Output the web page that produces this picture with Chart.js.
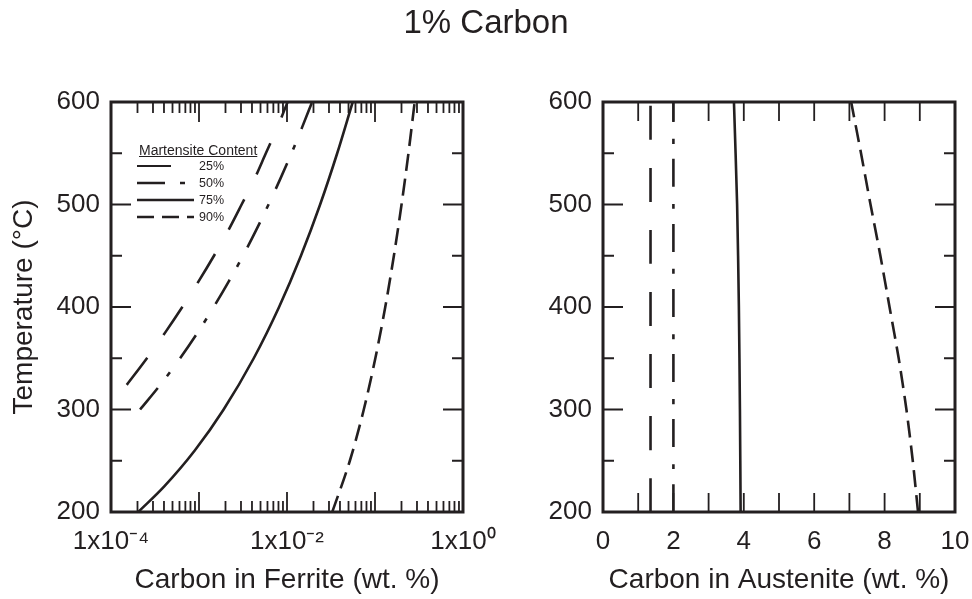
<!DOCTYPE html>
<html><head><meta charset="utf-8">
<script src="https://cdn.jsdelivr.net/npm/chart.js@4.4.0/dist/chart.umd.min.js"></script>
<style>
html,body{margin:0;padding:0;background:#fff;}
#wrap{position:relative;width:972px;height:599px;overflow:hidden;font-family:'Liberation Sans',Arial,sans-serif;color:#231f20;background:#fff;}
#title{position:absolute;left:0;width:972px;top:3px;line-height:37px;text-align:center;font-size:33px;}
canvas{position:absolute;top:0;}
#c1{left:0;}
#c2{left:500px;}
#legend{position:absolute;left:0;top:0;}
.lgTitle{position:absolute;left:139px;top:142px;font-size:14px;line-height:16px;text-decoration:underline;white-space:nowrap;}
.lgRow{position:absolute;left:137px;height:16px;width:120px;}
.lgRow svg{position:absolute;left:0;top:0;}
.lgRow span{position:absolute;left:62px;top:0;font-size:12.5px;line-height:16px;}
</style></head>
<body><div id="wrap">
<canvas id="c1" width="540" height="599"></canvas>
<canvas id="c2" width="484" height="599"></canvas>
<div id="title">1% Carbon</div>
<div id="legend"></div>
</div>
<script>
// ---------- data ----------
const seriesLabels = ['25%', '50%', '75%', '90%'];
const legendTitle = 'Martensite Content';

// Left panel: carbon in ferrite (wt. %) vs temperature (°C)
const ferrite25T = [324, 350, 375, 400, 425, 450, 475, 500, 525, 550, 575, 600];
const ferrite25C = [1.51e-4, 2.56e-4, 4.12e-4, 6.46e-4, 9.89e-4, 1.48e-3, 2.16e-3, 3.05e-3, 4.27e-3, 5.75e-3, 7.76e-3, 1.016e-2];
const ferrite50T = [300, 325, 350, 375, 400, 425, 450, 475, 500, 525, 550, 575, 600];
const ferrite50C = [2.14e-4, 3.70e-4, 6.10e-4, 9.64e-4, 1.47e-3, 2.18e-3, 3.16e-3, 4.46e-3, 6.17e-3, 8.39e-3, 1.125e-2, 1.48e-2, 1.93e-2];
const ferrite75T = [200, 225, 260, 300, 350, 400, 450, 500, 550, 600];
const ferrite75C = [2.04e-4, 4.03e-4, 8.95e-4, 1.905e-3, 4.19e-3, 8.13e-3, 1.44e-2, 2.38e-2, 3.72e-2, 5.58e-2];
const ferrite90T = [200, 250, 300, 350, 400, 450, 500, 550, 600];
const ferrite90C = [3.27e-2, 5.18e-2, 7.46e-2, 0.1009, 0.1308, 0.1639, 0.2003, 0.2399, 0.2825];

// Right panel: carbon in austenite (wt. %) vs temperature (°C)
const austenite25T = [200, 600];
const austenite25C = [1.35, 1.35];
const austenite50T = [200, 600];
const austenite50C = [2.0, 2.0];
const austenite75T = [200, 300, 400, 500, 600];
const austenite75C = [3.91, 3.89, 3.86, 3.81, 3.72];
const austenite90T = [200, 250, 300, 350, 400, 450, 500, 550, 600];
const austenite90C = [8.95, 8.80, 8.62, 8.40, 8.14, 7.88, 7.60, 7.33, 7.05];

// Ticks
const tempTicks = [200, 300, 400, 500, 600];
const tempMinorTicks = [250, 350, 450, 550];
const ferriteTickValues = [1e-4, 1e-2, 1];
const ferriteTickLabels = ['1x10\u207B\u2074', '1x10\u207B\u00B2', '1x10\u2070'];
const ferriteDecadeMarks = [1e-4, 1e-3, 1e-2, 1e-1, 1];
const austeniteTickValues = [0, 2, 4, 6, 8, 10];
const austeniteTickMarks = [0, 1, 2, 3, 4, 5, 6, 7, 8, 9, 10];

// ---------- styles ----------
const INK = '#231f20';
const FONT = "'Liberation Sans', Arial, sans-serif";
const seriesDash = [[34, 28], [28, 15, 5, 17], [], [17, 8]];
const LINE_W = 2.6;

Chart.defaults.font.family = FONT;
Chart.defaults.color = INK;

// log minor tick marks: 2..9 x 10^n inside each decade
const ferriteMinorMarks = [];
for (let i = 0; i < ferriteDecadeMarks.length - 1; i++) {
  for (let k = 2; k <= 9; k++) ferriteMinorMarks.push(k * ferriteDecadeMarks[i]);
}

function pts(xs, ys) { return xs.map((x, i) => ({ x: x, y: ys[i] })); }

function makeDatasets(pairs, smooth) {
  return pairs.map((p, i) => Object.assign({
    label: seriesLabels[i],
    data: pts(p[0], p[1]),
    showLine: true,
    borderColor: INK,
    backgroundColor: INK,
    borderWidth: LINE_W,
    borderDash: seriesDash[i],
    pointRadius: 0,
    fill: false
  }, smooth));
}

const frameTicks = {
  id: 'frameTicks',
  afterDatasetsDraw(chart, args, opts) {
    const { ctx, chartArea: a } = chart;
    const xs = chart.scales.x, ys = chart.scales.y;
    ctx.save();
    ctx.strokeStyle = INK;
    ctx.lineCap = 'butt';
    ctx.lineWidth = 1.8;
    const hTick = (v, len) => {
      const py = ys.getPixelForValue(v);
      ctx.beginPath();
      ctx.moveTo(a.left, py); ctx.lineTo(a.left + len, py);
      ctx.moveTo(a.right, py); ctx.lineTo(a.right - len, py);
      ctx.stroke();
    };
    const vTick = (v, len) => {
      const px = xs.getPixelForValue(v);
      ctx.beginPath();
      ctx.moveTo(px, a.bottom); ctx.lineTo(px, a.bottom - len);
      ctx.moveTo(px, a.top); ctx.lineTo(px, a.top + len);
      ctx.stroke();
    };
    (opts.yMajor || []).forEach(v => hTick(v, 20));
    (opts.yMinor || []).forEach(v => hTick(v, 11));
    (opts.xMajor || []).forEach(v => vTick(v, opts.xMajorLen || 20));
    (opts.xMinor || []).forEach(v => vTick(v, 11));
    ctx.lineWidth = 3;
    ctx.strokeRect(a.left, a.top, a.right - a.left, a.bottom - a.top);
    ctx.restore();
  }
};

function baseY(width, showTitle) {
  return {
    type: 'linear', min: 200, max: 600,
    grid: { display: false, drawTicks: false },
    border: { display: false },
    afterBuildTicks: s => { s.ticks = tempTicks.map(v => ({ value: v })); },
    ticks: { padding: 11, font: { size: 26 }, color: INK },
    title: { display: showTitle, text: 'Temperature (\u00B0C)', font: { size: 28 }, color: INK, padding: { top: 7, bottom: 0 } },
    afterFit: s => { s.width = width; }
  };
}

// Left chart
new Chart(document.getElementById('c1'), {
  type: 'scatter',
  data: {
    datasets: makeDatasets([
      [ferrite25C, ferrite25T], [ferrite50C, ferrite50T],
      [ferrite75C, ferrite75T], [ferrite90C, ferrite90T]
    ], { cubicInterpolationMode: 'monotone' })
  },
  options: {
    responsive: false, animation: false, devicePixelRatio: 1,
    layout: { padding: { top: 102, right: 77, left: 0, bottom: 0 } },
    plugins: {
      legend: { display: false }, tooltip: { enabled: false },
      frameTicks: { yMajor: tempTicks, yMinor: tempMinorTicks, xMajor: ferriteDecadeMarks, xMinor: ferriteMinorMarks }
    },
    scales: {
      x: {
        type: 'logarithmic', min: 1e-4, max: 1,
        grid: { display: false, drawTicks: false },
        border: { display: false },
        afterBuildTicks: s => { s.ticks = ferriteTickValues.map(v => ({ value: v })); },
        ticks: {
          padding: 14, font: { size: 26 }, color: INK, autoSkip: false, maxRotation: 0,
          callback: (v) => { const i = ferriteTickValues.indexOf(v); return i >= 0 ? ferriteTickLabels[i] : ''; }
        },
        title: { display: true, text: 'Carbon in Ferrite (wt. %)', font: { size: 28 }, color: INK, padding: { top: 0, bottom: 2 } },
        afterFit: s => { s.height = 87; }
      },
      y: baseY(111, true)
    }
  },
  plugins: [frameTicks]
});

// Right chart
new Chart(document.getElementById('c2'), {
  type: 'scatter',
  data: {
    datasets: makeDatasets([
      [austenite25C, austenite25T], [austenite50C, austenite50T],
      [austenite75C, austenite75T], [austenite90C, austenite90T]
    ], { tension: 0.25 })
  },
  options: {
    responsive: false, animation: false, devicePixelRatio: 1,
    layout: { padding: { top: 102, right: 29, left: 0, bottom: 0 } },
    plugins: {
      legend: { display: false }, tooltip: { enabled: false },
      frameTicks: { yMajor: tempTicks, yMinor: tempMinorTicks, xMajor: austeniteTickMarks, xMajorLen: 19 }
    },
    scales: {
      x: {
        type: 'linear', min: 0, max: 10,
        grid: { display: false, drawTicks: false },
        border: { display: false },
        afterBuildTicks: s => { s.ticks = austeniteTickValues.map(v => ({ value: v })); },
        ticks: { padding: 14, font: { size: 26 }, color: INK, autoSkip: false, maxRotation: 0 },
        title: { display: true, text: 'Carbon in Austenite (wt. %)', font: { size: 28 }, color: INK, padding: { top: 0, bottom: 2 } },
        afterFit: s => { s.height = 87; }
      },
      y: baseY(103, false)
    }
  },
  plugins: [frameTicks]
});

// Legend (HTML), built from the series labels and their line styles
(function buildLegend() {
  const lg = document.getElementById('legend');
  const t = document.createElement('div');
  t.className = 'lgTitle';
  t.textContent = legendTitle;
  lg.appendChild(t);
  const rowTops = [157.5, 174.5, 192, 209];
  seriesLabels.forEach((lab, i) => {
    const row = document.createElement('div');
    row.className = 'lgRow';
    row.style.top = rowTops[i] + 'px';
    const dash = seriesDash[i].length ? ` stroke-dasharray="${seriesDash[i].join(' ')}"` : '';
    row.innerHTML = `<svg width="57" height="16"><line x1="0" y1="8" x2="57" y2="8" stroke="${INK}" stroke-width="${i === 0 ? 2 : 2.6}"${dash}/></svg><span>${lab}</span>`;
    lg.appendChild(row);
  });
})();
</script>
</body></html>
